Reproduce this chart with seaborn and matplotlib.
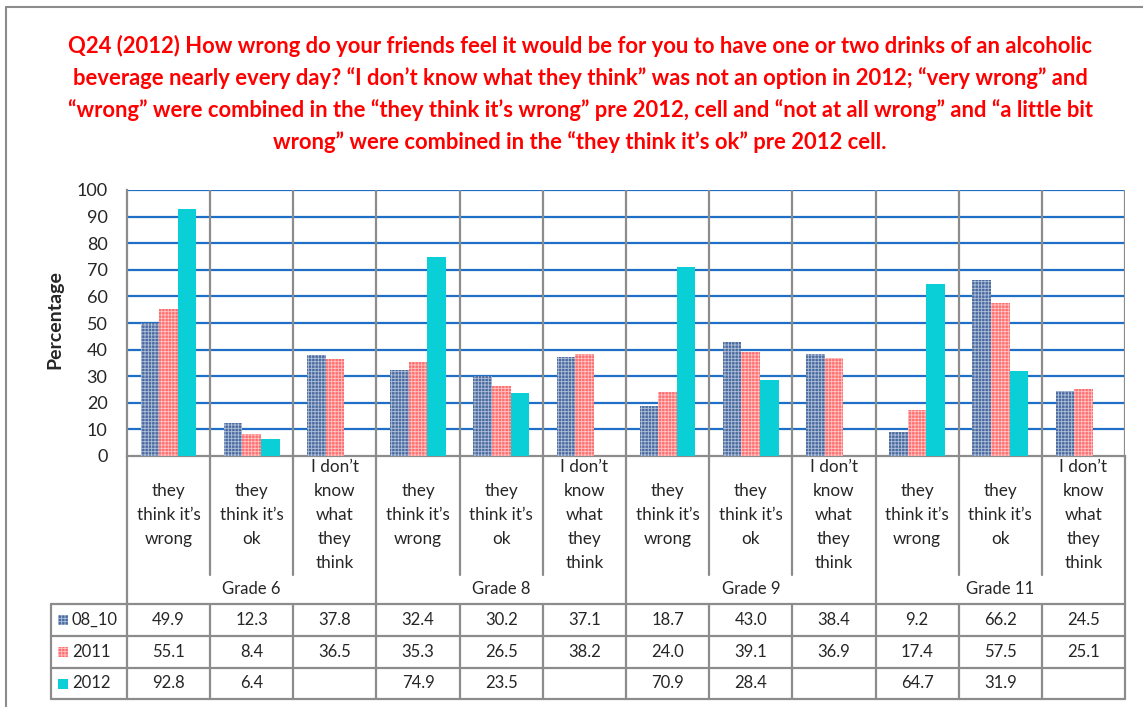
import matplotlib
matplotlib.use('Agg')
import matplotlib.pyplot as plt
import matplotlib.patches as mpatches
import seaborn as sns
import pandas as pd
import numpy as np

# Chart data
grades = ['Grade 6', 'Grade 8', 'Grade 9', 'Grade 11']
answers = ['they\nthink it\u2019s\nwrong', 'they\nthink it\u2019s\nok', 'I don\u2019t\nknow\nwhat\nthey\nthink']
series = ['08_10', '2011', '2012']
v_0810 = [49.9, 12.3, 37.8, 32.4, 30.2, 37.1, 18.7, 43.0, 38.4, 9.2, 66.2, 24.5]
v_2011 = [55.1, 8.4, 36.5, 35.3, 26.5, 38.2, 24.0, 39.1, 36.9, 17.4, 57.5, 25.1]
v_2012 = [92.8, 6.4, np.nan, 74.9, 23.5, np.nan, 70.9, 28.4, np.nan, 64.7, 31.9, np.nan]
y_ticks = [0, 10, 20, 30, 40, 50, 60, 70, 80, 90, 100]

title = ('Q24 (2012) How wrong do your friends feel it would be for you to have one or two drinks of an alcoholic\n'
         'beverage nearly every day? \u201cI don\u2019t know what they think\u201d was not an option in 2012; \u201cvery wrong\u201d and\n'
         '\u201cwrong\u201d were combined in the \u201cthey think it\u2019s wrong\u201d pre 2012, cell and \u201cnot at all wrong\u201d and \u201ca little bit\n'
         'wrong\u201d were combined in the \u201cthey think it\u2019s ok\u201d pre 2012 cell.')

# long-form table for seaborn
keys = [f'{g}|{a}' for g in grades for a in answers]
df = pd.DataFrame({
    'key': keys * 3,
    'series': np.repeat(series, len(keys)),
    'value': v_0810 + v_2011 + v_2012,
})

sns.set_style('white')
plt.rcParams['font.family'] = ['Lato', 'DejaVu Sans']
plt.rcParams['hatch.linewidth'] = 0.6

W, H = 1143, 707
fig = plt.figure(figsize=(W / 100, H / 100), dpi=100)

# plot area in pixels
px_l, px_r, px_t, px_b = 127, 1125, 190, 456
ax = fig.add_axes([px_l / W, 1 - px_b / H, (px_r - px_l) / W, (px_b - px_t) / H])

face = {'08_10': '#4B6B9F', '2011': '#FF6E6E', '2012': '#0BCFD7'}
hatchc = {'08_10': '#AFC0DA', '2011': '#FFC4C4', '2012': '#0BCFD7'}

sns.barplot(data=df, x='key', y='value', hue='series', order=keys, hue_order=series,
            width=0.67, palette=face, ax=ax, legend=False, zorder=3, saturation=1)

for cont, s in zip(ax.containers, series):
    for bar in cont:
        bar.set_facecolor(face[s])
        bar.set_edgecolor(hatchc[s])
        bar.set_linewidth(0)
        if s != '2012':
            bar.set_hatch('+++++')

n = len(keys)
ax.set_xlim(-0.5, n - 0.5)
ax.set_ylim(0, 100)
ax.set_yticks(y_ticks)
ax.set_yticklabels([str(t) for t in y_ticks], fontsize=13)
ax.tick_params(axis='y', length=0, pad=14)
ax.set_xticks([])
ax.set_xlabel('')
ax.set_ylabel('')
for t in y_ticks[1:]:
    ax.axhline(t, color='#1F6FC6', lw=1.6, zorder=1)
for sp in ['top', 'right']:
    ax.spines[sp].set_visible(False)
for sp in ['left', 'bottom']:
    ax.spines[sp].set_color('#8C8C8C')
    ax.spines[sp].set_linewidth(1.6)
for i in range(n):
    ax.axvline(i + 0.5, color='#8C8C8C', lw=1.6, zorder=2)

fig.text(55 / W, 1 - 320 / H, 'Percentage', rotation=90, fontsize=14, fontweight='bold',
         ha='center', va='center')

# helpers for area below the plot
tr = ax.get_xaxis_transform()


def ay(y):
    return (px_b - y) / (px_b - px_t)


def dx(x):
    return (x - px_l) / ((px_r - px_l) / n) - 0.5


line_kw = dict(color='#8C8C8C', lw=1.6, transform=tr, clip_on=False)

# category labels
for i, k in enumerate(keys):
    ax.text(i, ay(515), k.split('|')[1], transform=tr, ha='center', va='center',
            fontsize=12.3, linespacing=1.62, clip_on=False)
    b = i + 0.5
    if (i + 1) % 3 == 0:
        ax.plot([b, b], [ay(px_b), ay(699)], **line_kw)
    else:
        ax.plot([b, b], [ay(px_b), ay(575)], **line_kw)
        ax.plot([b, b], [ay(604), ay(699)], **line_kw)
ax.plot([-0.5, -0.5], [ay(px_b), ay(699)], **line_kw)

for g_i, g in enumerate(grades):
    ax.text(g_i * 3 + 1, ay(589), g, transform=tr, ha='center', va='center',
            fontsize=12, clip_on=False)

# data table
rows_y = [604, 636, 668, 699]
left_x = dx(51)
for y in rows_y:
    ax.plot([left_x, n - 0.5], [ay(y), ay(y)], **line_kw)
ax.plot([left_x, left_x], [ay(604), ay(699)], **line_kw)

for r, (s, vals) in enumerate(zip(series, [v_0810, v_2011, v_2012])):
    yc = (rows_y[r] + rows_y[r + 1]) / 2
    sq = mpatches.Rectangle((58 / W, 1 - (yc + 5) / H), 10 / W, 10 / H, transform=fig.transFigure,
                            facecolor=face[s], edgecolor=hatchc[s], lw=0,
                            hatch='+++++' if s != '2012' else None)
    fig.add_artist(sq)
    fig.text(72 / W, 1 - yc / H, s, ha='left', va='center', fontsize=12)
    for i, v in enumerate(vals):
        if not np.isnan(v):
            ax.text(i, ay(yc), f'{v:.1f}', transform=tr, ha='center', va='center',
                    fontsize=12, clip_on=False)

# title
fig.text(580 / W, 1 - 94 / H, title, ha='center', va='center', color='#FF0000',
         fontsize=15.8, fontweight='bold', linespacing=1.55)

# outer chart border (left and top visible)
fig.add_artist(plt.Line2D([6 / W, 6 / W], [0, 1 - 7 / H], color='#8C8C8C', lw=1.5))
fig.add_artist(plt.Line2D([6 / W, 1], [1 - 7 / H, 1 - 7 / H], color='#8C8C8C', lw=1.5))

fig.savefig('out.png', dpi=100)
